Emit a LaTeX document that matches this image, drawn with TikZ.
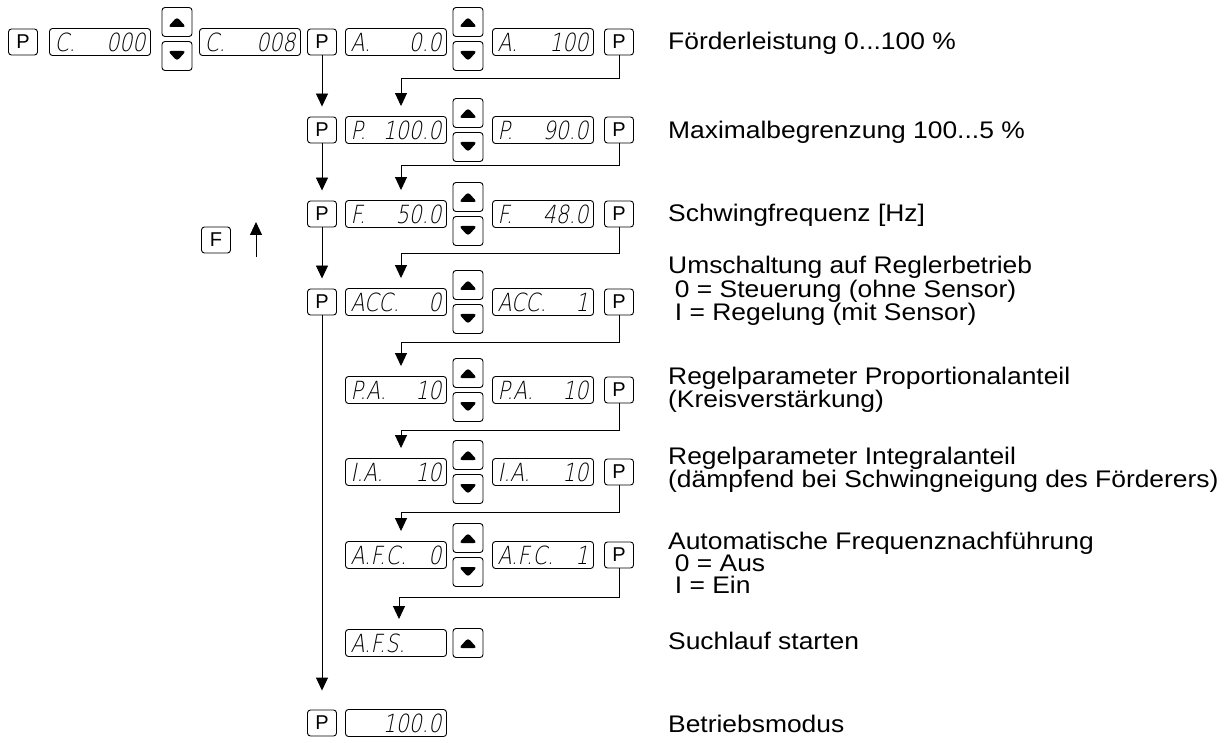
\documentclass[tikz,border=0pt]{standalone}
\usepackage{fontspec}
\setmainfont{Liberation Sans}
\newfontfamily\segfont[FakeSlant=0.2,FakeStretch=0.82]{DejaVu Sans ExtraLight}
\newfontfamily\descfont[FakeStretch=1.1]{Liberation Sans}
\usetikzlibrary{arrows.meta,calc}
\begin{document}
\begin{tikzpicture}[x=1pt,y=-1pt,
  every node/.style={inner sep=0pt},
  box/.style={draw, rounded corners=3pt, line width=0.9pt},
  key/.style={box, minimum width=29pt, minimum height=26pt, font=\fontsize{20}{20}\selectfont},
  disp/.style={box, minimum width=101pt, minimum height=27pt, text width=91pt, align=flush left, font=\segfont\fontsize{25}{25}\selectfont},
  btn/.style={box, minimum width=30pt, minimum height=29pt},
  btnup/.style={btn, path picture={\fill ($(path picture bounding box.center)+(-9,5)$) -- ++(18,0) -- ++(-9,-10) -- cycle;}},
  btndn/.style={btn, path picture={\fill ($(path picture bounding box.center)+(-9,-5)$) -- ++(18,0) -- ++(-9,10) -- cycle;}},
  flow/.style={line width=0.9pt, -{Triangle[width=12pt,length=13pt]}},
  desc/.style={anchor=west, align=left, font=\descfont\fontsize{24}{22}\selectfont},
]
\useasboundingbox (0,0) rectangle (1226,743);

% row 1
\node[key] (p1) at (23,42) {P};
\node[disp] (d11) at (100,42) {C.\hfill 000};
\node[btnup] (u1) at (177,22) {};
\node[btndn] (n1) at (177,56) {};
\node[disp] (d12) at (250,42) {C.\hfill 008};
\node[key] (p12) at (322,42) {P};
\node[disp] (d13) at (396,42) {A.\hfill 0.0};
\node[btnup] (u12) at (468,22) {};
\node[btndn] (n12) at (468,56) {};
\node[disp] (d14) at (543,42) {A.\hfill 100};
\node[key] (q1) at (619,42) {P};

% row 2
\node[key] (p2) at (322,130) {P};
\node[disp] (d21) at (396,130) {P.\hfill 100.0};
\node[btnup] (u2) at (468,113) {};
\node[btndn] (n2) at (468,147) {};
\node[disp] (d22) at (543,130) {P.\hfill 90.0};
\node[key] (q2) at (619,130) {P};

% row 3
\node[key] (p3) at (322,214) {P};
\node[disp] (d31) at (396,214) {F.\hfill 50.0};
\node[btnup] (u3) at (468,197) {};
\node[btndn] (n3) at (468,231) {};
\node[disp] (d32) at (543,214) {F.\hfill 48.0};
\node[key] (q3) at (619,214) {P};

% row 4
\node[key] (p4) at (322,302) {P};
\node[disp] (d41) at (396,302) {ACC.\hfill 0~};
\node[btnup] (u4) at (468,285) {};
\node[btndn] (n4) at (468,319) {};
\node[disp] (d42) at (543,302) {ACC.\hfill 1~};
\node[key] (q4) at (619,302) {P};

% row 5
\node[disp] (d51) at (396,390) {P.A.\hfill 10};
\node[btnup] (u5) at (468,373) {};
\node[btndn] (n5) at (468,407) {};
\node[disp] (d52) at (543,390) {P.A.\hfill 10};
\node[key] (q5) at (619,390) {P};

% row 6
\node[disp] (d61) at (396,472) {I.A.\hfill 10};
\node[btnup] (u6) at (468,455) {};
\node[btndn] (n6) at (468,489) {};
\node[disp] (d62) at (543,472) {I.A.\hfill 10};
\node[key] (q6) at (619,472) {P};

% row 7
\node[disp] (d71) at (396,555) {A.F.C.\hfill 0~};
\node[btnup] (u7) at (468,538) {};
\node[btndn] (n7) at (468,572) {};
\node[disp] (d72) at (543,555) {A.F.C.\hfill 1~};
\node[key] (q7) at (619,555) {P};

% row 8
\node[disp] (d81) at (396,643) {A.F.S.};
\node[btnup] (u8) at (468,643) {};

% row 9
\node[key] (p9) at (322,723) {P};
\node[disp] (d91) at (396,723) {\hfill 100.0};

% F key
\node[key] (f) at (216,240) {F};
\coordinate (fa) at (256,257);
\coordinate (fb) at (256,222);
\draw[flow] (fa) -- (fb);

% left column connectors
\draw[flow, shorten >=10pt] (p12) -- (p2);
\draw[flow, shorten >=10pt] (p2) -- (p3);
\draw[flow, shorten >=10pt] (p3) -- (p4);
\draw[flow, shorten >=19pt] (p4) -- (p9);

% right connectors
\draw[flow, shorten >=10pt] (q1.south) |- (401,78) -- ([xshift=5pt]d21.north);
\draw[flow, shorten >=10pt] (q2.south) |- (401,165) -- ([xshift=5pt]d31.north);
\draw[flow, shorten >=10pt] (q3.south) |- (401,253) -- ([xshift=5pt]d41.north);
\draw[flow, shorten >=10pt] (q4.south) |- (401,342) -- ([xshift=5pt]d51.north);
\draw[flow, shorten >=10pt] (q5.south) |- (401,430) -- ([xshift=5pt]d61.north);
\draw[flow, shorten >=10pt] (q6.south) |- (401,512) -- ([xshift=5pt]d71.north);
\draw[flow, shorten >=10pt] (q7.south) |- (399,597) -- ([xshift=3pt]d81.north);

% descriptions
\node[desc] (t1) at (668,43) {Förderleistung 0...100 \%};
\node[desc] (t2) at (668,132) {Maximalbegrenzung 100...5 \%};
\node[desc] (t3) at (668,215) {Schwingfrequenz [Hz]};
\node[desc] (t4) at (668,291) {Umschaltung auf Reglerbetrieb\\\hspace*{0.28em}0 = Steuerung (ohne Sensor)\\\hspace*{0.28em}I = Regelung (mit Sensor)};
\node[desc] (t5) at (668,390) {Regelparameter Proportionalanteil\\(Kreisverstärkung)};
\node[desc] (t6) at (668,470) {Regelparameter Integralanteil\\(dämpfend bei Schwingneigung des Förderers)};
\node[desc] (t7) at (668,563) {Automatische Frequenznachführung\\\hspace*{0.28em}0 = Aus\\\hspace*{0.28em}I = Ein};
\node[desc] (t8) at (668,641) {Suchlauf starten};
\node[desc] (t9) at (668,724) {Betriebsmodus};
\end{tikzpicture}
\end{document}
